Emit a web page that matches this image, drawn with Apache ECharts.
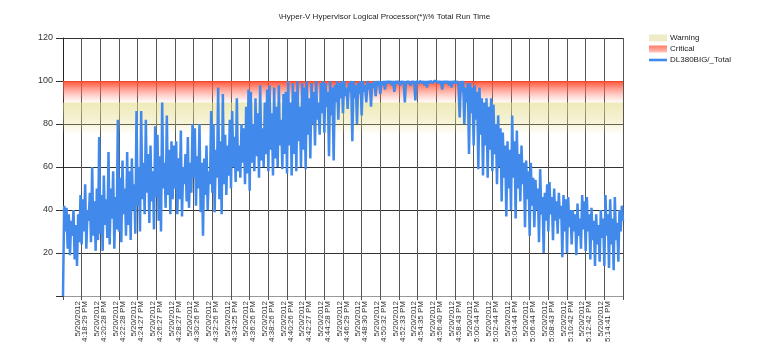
<!DOCTYPE html>
<html>
<head>
<meta charset="utf-8">
<script src="https://cdn.jsdelivr.net/npm/echarts@6/dist/echarts.min.js"></script>
<style>
html,body{margin:0;padding:0;background:#fff;}
#c{width:769px;height:360px;}
</style>
</head>
<body>
<div id="c"></div>
<script>
const chartTitle = '\\Hyper-V Hypervisor Logical Processor(*)\\% Total Run Time';
const seriesName = 'DL380BIG/_Total';
const tickLabels = [
  '5/20/2012\n4:18:29 PM','5/20/2012\n4:20:28 PM','5/20/2012\n4:22:28 PM','5/20/2012\n4:24:27 PM',
  '5/20/2012\n4:26:27 PM','5/20/2012\n4:28:27 PM','5/20/2012\n4:30:26 PM','5/20/2012\n4:32:26 PM',
  '5/20/2012\n4:34:25 PM','5/20/2012\n4:36:26 PM','5/20/2012\n4:38:26 PM','5/20/2012\n4:40:26 PM',
  '5/20/2012\n4:42:27 PM','5/20/2012\n4:44:28 PM','5/20/2012\n4:46:29 PM','5/20/2012\n4:48:30 PM',
  '5/20/2012\n4:50:32 PM','5/20/2012\n4:52:33 PM','5/20/2012\n4:54:35 PM','5/20/2012\n4:56:40 PM',
  '5/20/2012\n4:58:43 PM','5/20/2012\n5:00:44 PM','5/20/2012\n5:02:44 PM','5/20/2012\n5:04:44 PM',
  '5/20/2012\n5:06:44 PM','5/20/2012\n5:08:43 PM','5/20/2012\n5:10:42 PM','5/20/2012\n5:12:42 PM',
  '5/20/2012\n5:14:41 PM'
];
const samplesPerTick = 16;
const warningRange = [75, 90];
const criticalRange = [90, 100];
const runTime = [
  0, 42, 30, 41, 22, 38, 19, 35, 28, 40, 17, 33, 14, 38, 25, 47,
  24, 45, 30, 52, 22, 40, 35, 48, 25, 60, 28, 44, 21, 50, 26, 74,
  29, 47, 21, 56, 33, 45, 27, 67, 24, 50, 36, 58, 22, 46, 31, 82,
  30, 55, 25, 63, 38, 50, 28, 67, 33, 58, 26, 64, 40, 52, 29, 86,
  42, 60, 30, 86, 45, 62, 38, 82, 48, 66, 34, 70, 44, 58, 31, 79,
  46, 75, 35, 65, 30, 90, 50, 62, 41, 84, 47, 68, 38, 72, 45, 70,
  50, 72, 38, 64, 45, 77, 37, 60, 52, 66, 44, 74, 41, 62, 48, 80,
  55, 78, 42, 65, 50, 80, 39, 62, 28, 64, 47, 70, 40, 58, 52, 86,
  48, 80, 39, 68, 55, 97, 45, 72, 38, 94, 52, 75, 47, 70, 56, 82,
  50, 86, 60, 74, 53, 92, 58, 70, 55, 80, 62, 78, 52, 88, 57, 96,
  49, 95, 62, 80, 58, 92, 65, 85, 55, 98, 63, 78, 60, 90, 66, 96,
  58, 98, 68, 85, 56, 97, 64, 88, 60, 98, 70, 82, 59, 94, 66, 95,
  57, 100, 70, 90, 56, 99, 66, 95, 58, 100, 72, 88, 60, 99, 68, 97,
  59, 100, 75, 92, 64, 99, 80, 95, 70, 100, 82, 90, 75, 99, 85, 100,
  76, 99, 88, 95, 65, 100, 84, 97, 63, 98, 90, 100, 82, 99, 92, 100,
  85, 100, 93, 97, 87, 99, 95, 100, 72, 100, 92, 98, 80, 99, 94, 100,
  84, 100, 95, 98, 90, 100, 96, 99, 88, 99, 97, 100, 93, 100, 98, 100,
  94, 100, 98, 100, 96, 100, 99, 100, 99, 100, 98, 100, 95, 100, 99, 100,
  100, 98, 100, 99, 100, 90, 100, 99, 100, 99, 98, 100, 99, 100, 91, 100,
  100, 99, 100, 100, 99, 100, 98, 100, 97, 100, 99, 100, 100, 99, 100, 100,
  100, 99, 100, 99, 100, 96, 100, 99, 100, 99, 100, 98, 100, 97, 100, 99,
  100, 99, 100, 98, 83, 100, 95, 100, 80, 97, 90, 99, 66, 99, 85, 97,
  70, 98, 82, 95, 59, 97, 75, 92, 56, 90, 70, 92, 55, 88, 68, 92,
  58, 89, 66, 80, 52, 84, 60, 78, 44, 76, 55, 70, 37, 72, 50, 68,
  40, 84, 55, 72, 36, 77, 50, 66, 44, 70, 52, 62, 32, 63, 45, 58,
  28, 62, 42, 55, 32, 54, 40, 50, 25, 59, 38, 46, 20, 48, 35, 52,
  30, 53, 38, 46, 26, 50, 35, 44, 29, 48, 36, 42, 18, 47, 30, 45,
  20, 46, 32, 40, 24, 40, 30, 38, 19, 43, 28, 36, 22, 47, 31, 44,
  21, 46, 30, 38, 17, 41, 26, 35, 14, 38, 24, 33, 16, 40, 27, 36,
  14, 47, 28, 38, 13, 45, 24, 36, 12, 46, 26, 34, 16, 40, 30, 42,
  35
];

const FONT = 'Liberation Sans, Arial, sans-serif';
const chart = echarts.init(document.getElementById('c'), null, {renderer: 'canvas'});
const xMax = (tickLabels.length + 1) * samplesPerTick;

chart.setOption({
  animation: false,
  backgroundColor: '#fff',
  title: {
    text: chartTitle, left: 'center', top: 8,
    textStyle: {fontSize: 8, fontWeight: 'normal', color: '#222', fontFamily: FONT}
  },
  legend: {
    orient: 'vertical', left: 649, top: 33, padding: 0,
    itemWidth: 18, itemHeight: 7, itemGap: 1,
    textStyle: {fontSize: 8, color: '#222', fontFamily: FONT, lineHeight: 10, padding: [0,0,0,-2]},
    data: [
      {name: 'Warning', icon: 'rect', itemStyle: {color: '#efebc6'}},
      {name: 'Critical', icon: 'rect', itemStyle: {color: new echarts.graphic.LinearGradient(0,0,0,1,[{offset:0,color:'#ff7a66'},{offset:1,color:'#ffc4ba'}])}},
      {name: seriesName, icon: 'path://M0,0h18v2.6h-18z', itemStyle: {color: '#4189ea'}}
    ]
  },
  grid: {left: 63, right: 146, top: 38, bottom: 64, containLabel: false},
  xAxis: {
    type: 'value', min: 0, max: xMax, interval: samplesPerTick,
    axisLine: {show: true, lineStyle: {color: '#999', width: 1}},
    axisTick: {show: true, length: 4, lineStyle: {color: '#555'}},
    splitLine: {show: true, lineStyle: {color: '#555', width: 1}},
    axisLabel: {
      rotate: 90, margin: 5, fontSize: 8, lineHeight: 7, color: '#333', fontFamily: FONT,
      showMinLabel: true, showMaxLabel: true,
      formatter: function (v) {
        const i = Math.round(v / samplesPerTick) - 1;
        return (i >= 0 && i < tickLabels.length) ? tickLabels[i] : '';
      }
    }
  },
  yAxis: {
    type: 'value', min: 0, max: 120, interval: 20,
    axisLine: {show: true, lineStyle: {color: '#222', width: 1}},
    axisTick: {show: true, length: 7, lineStyle: {color: '#333'}},
    splitLine: {show: true, lineStyle: {color: '#333', width: 1}},
    axisLabel: {
      fontSize: 9, color: '#333', fontFamily: FONT, margin: 10,
      formatter: function (v) { return v === 0 ? '' : String(v); }
    }
  },
  series: [
    {
      name: 'Warning', type: 'line', data: [], silent: true,
      itemStyle: {color: '#efebc6'},
      markArea: {
        silent: true,
        itemStyle: {color: new echarts.graphic.LinearGradient(0,0,0,1,[
          {offset: 0, color: 'rgba(228,220,140,0.62)'},
          {offset: 0.6, color: 'rgba(228,220,140,0.35)'},
          {offset: 1, color: 'rgba(228,220,140,0)'}
        ])},
        data: [[{yAxis: warningRange[1]}, {yAxis: warningRange[0]}]]
      }
    },
    {
      name: 'Critical', type: 'line', data: [], silent: true,
      itemStyle: {color: '#ff7a66'},
      markArea: {
        silent: true,
        itemStyle: {color: new echarts.graphic.LinearGradient(0,0,0,1,[
          {offset: 0, color: 'rgba(255,70,40,0.95)'},
          {offset: 0.5, color: 'rgba(255,110,90,0.5)'},
          {offset: 1, color: 'rgba(255,140,120,0.03)'}
        ])},
        data: [[{yAxis: criticalRange[1]}, {yAxis: criticalRange[0]}]]
      }
    },
    {
      name: seriesName, type: 'line', symbol: 'none', showSymbol: false, z: 3,
      lineStyle: {color: '#4189ea', width: 2.5},
      itemStyle: {color: '#4189ea'},
      data: runTime.map(function (v, i) { return [i, v]; })
    }
  ]
});
</script>
</body>
</html>
